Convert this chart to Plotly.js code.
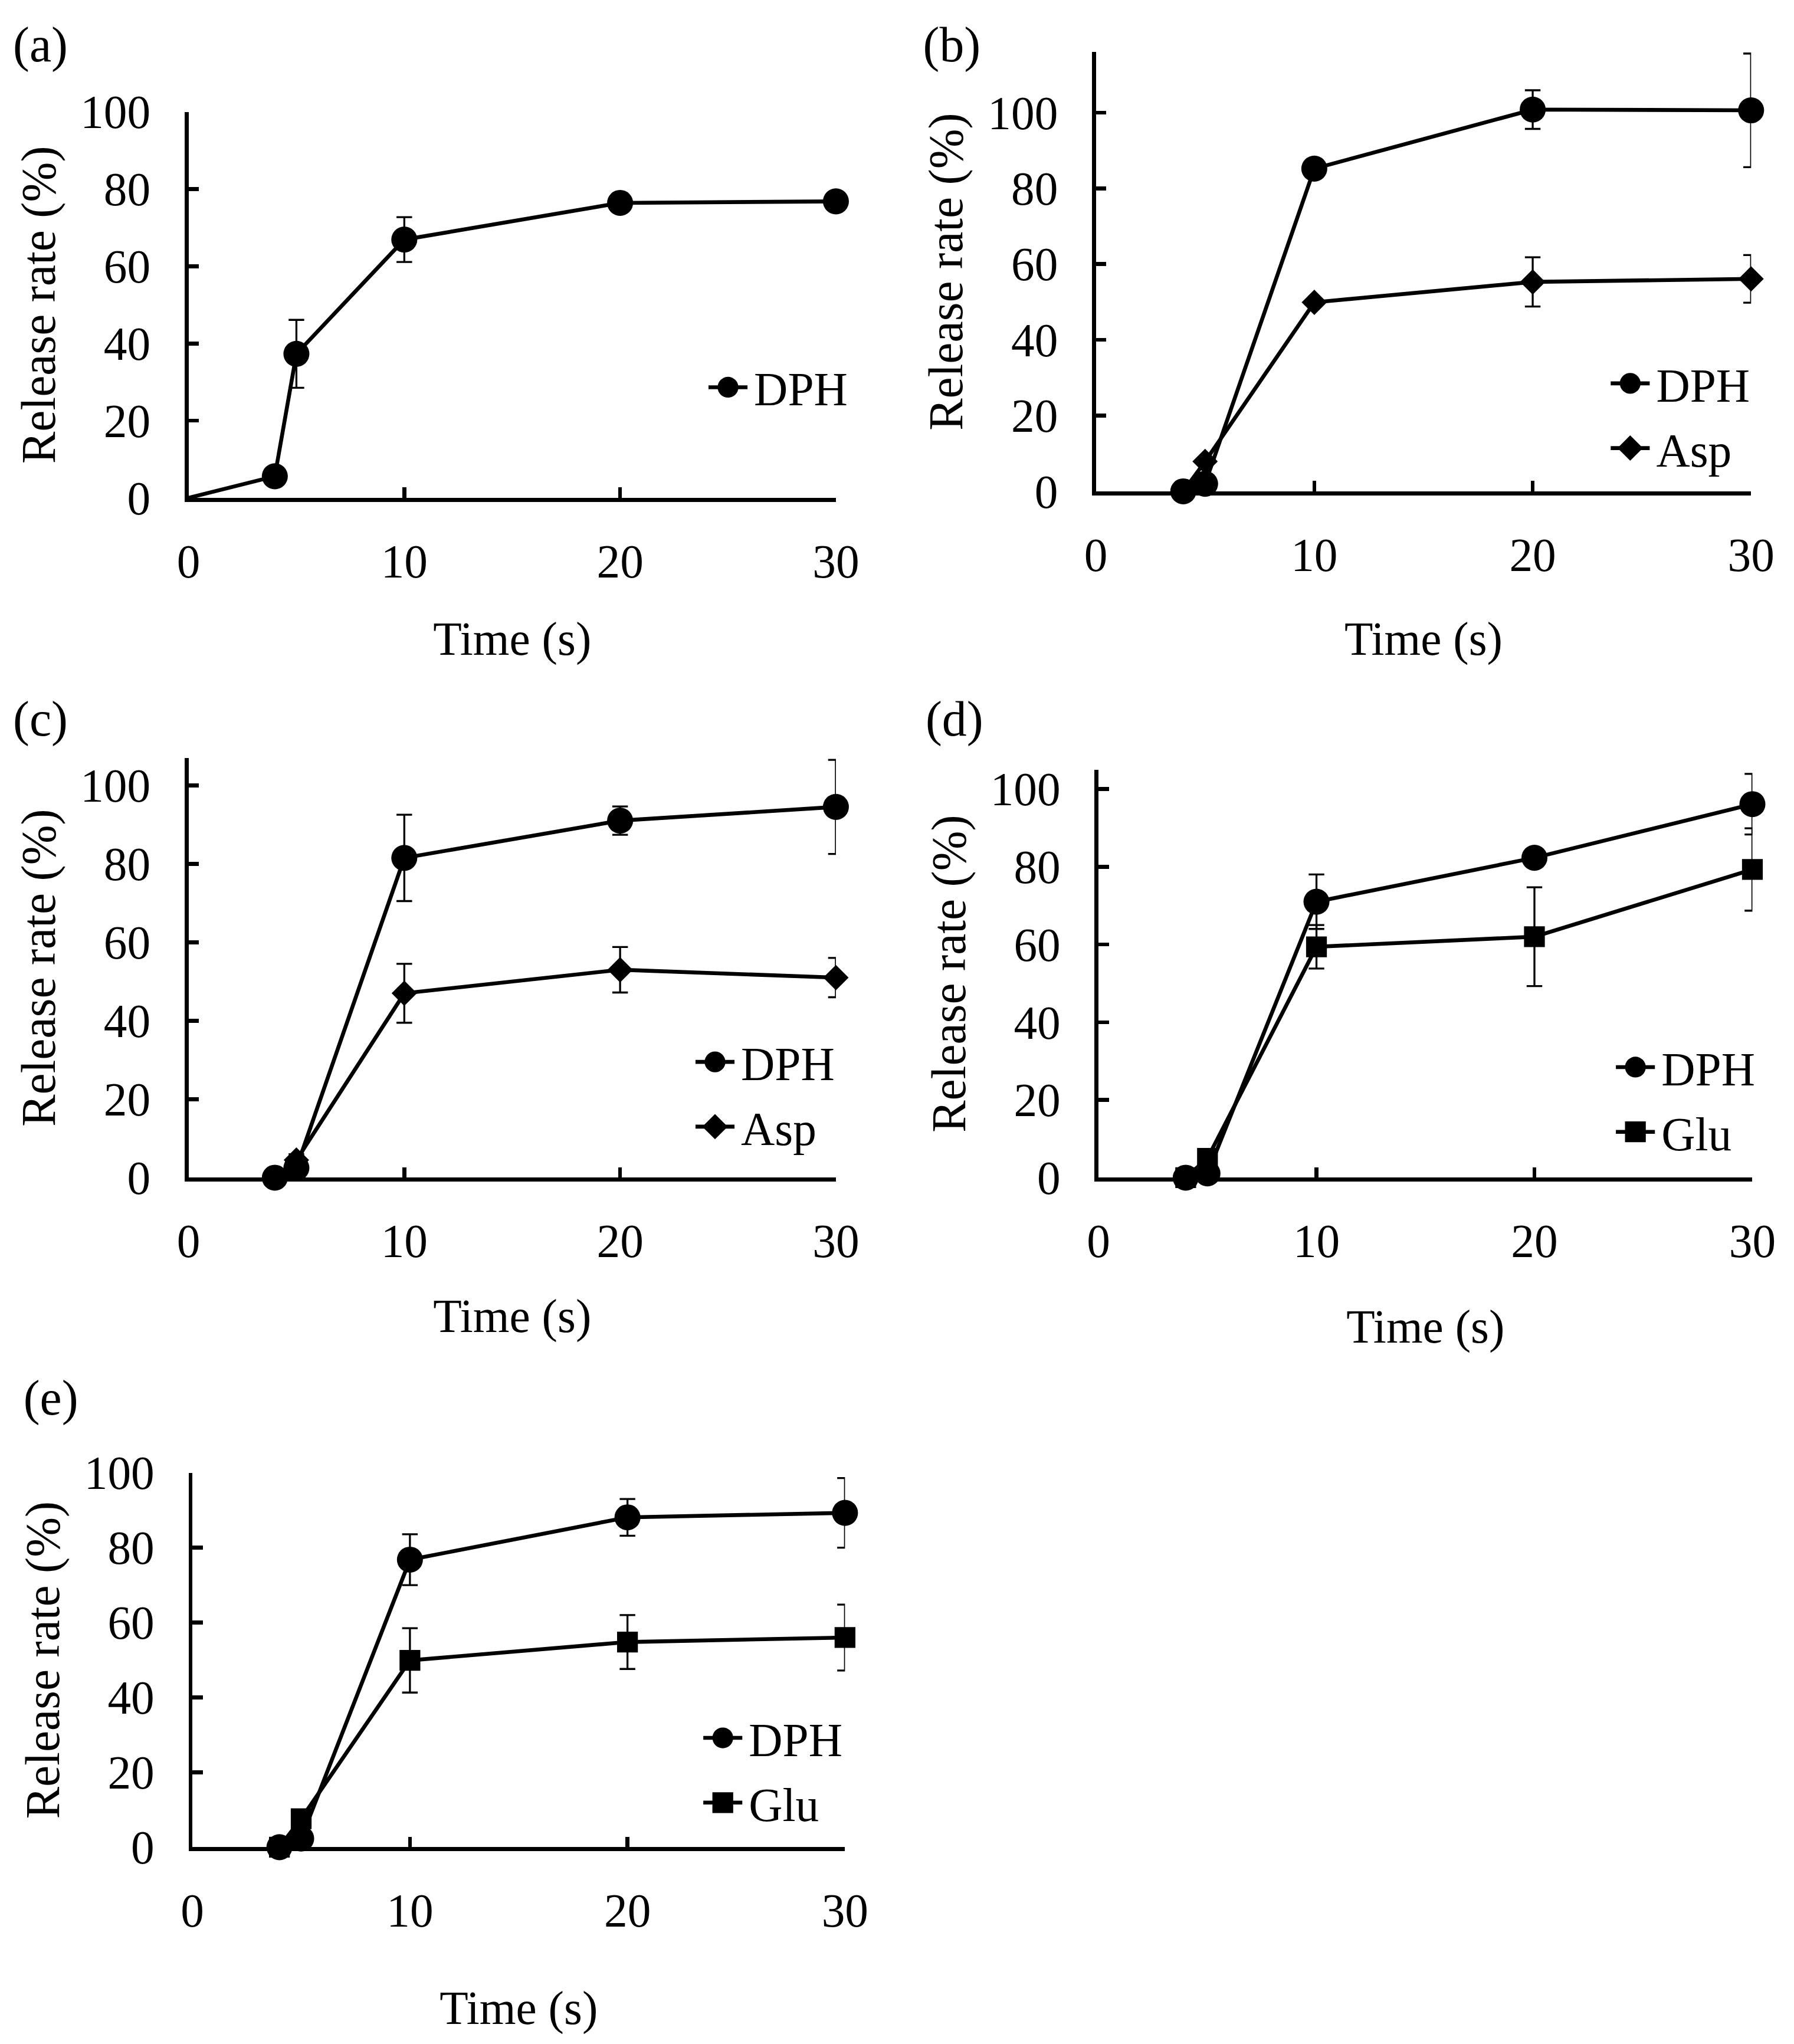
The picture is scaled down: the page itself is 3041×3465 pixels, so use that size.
<!DOCTYPE html>
<html>
<head>
<meta charset="utf-8">
<script src="https://cdn.plot.ly/plotly-3.0.1.min.js"></script>
<style>
  html, body { margin: 0; padding: 0; background: #fff; }
  #page { width: 3041px; height: 3465px; overflow: hidden; position: relative; }
  #chart { position: absolute; left: 0; top: 0; transform-origin: 0 0; }
</style>
</head>
<body>
<div id="page"><div id="chart"></div></div>
<script>
// time points (s)
const timeA = [0, 4, 5, 10, 20, 30];
const timeBE = [4, 5, 10, 20, 30];

// (a) DPH alone
const dphA = [0, 5.6, 37.3, 66.9, 76.4, 76.8];
const dphAErr = [0, 0, 8.8, 5.8, 0, 0];

// (b) DPH + Asp
const dphB = [0, 2, 85.2, 100.8, 100.6];
const dphBErr = [0, 0, 1, 5.1, 15];
const aspB = [0, 7.9, 49.9, 55.3, 56.1];
const aspBErr = [0, 0, 0, 6.5, 6.3];

// (c) DPH + Asp
const dphC = [0, 2.5, 81.5, 91, 94.5];
const dphCErr = [0, 0, 11, 3.6, 12];
const aspC = [0, 4.5, 47, 53, 51];
const aspCErr = [0, 1.5, 7.5, 5.8, 5];

// (d) DPH + Glu
const dphD = [0, 1.1, 71, 82.3, 96.1];
const dphDErr = [0, 0, 7, 0, 7.8];
const gluD = [0, 5, 59.4, 62, 79.3];
const gluDErr = [0, 0, 5.6, 12.7, 10.6];

// (e) DPH + Glu
const dphE = [0, 2.3, 76.8, 88.1, 89.3];
const dphEErr = [0, 0, 6.8, 4.9, 9.3];
const gluE = [0, 7.6, 49.9, 54.8, 56];
const gluEErr = [0, 0, 8.6, 7.2, 8.8];

const xTicks = [0, 10, 20, 30];
const yTicks = [0, 20, 40, 60, 80, 100];

// figure is laid out at the size of the printed figure, then scaled up
const W = 1380, H = 1573, SCALE = 3041 / W;
const dx = px => px / W;
const dy = px => 1 - px / H;

const FONT = 'Liberation Serif, Times New Roman, serif';
const FS = 36;

function series(name, x, y, err, symbol, size, n) {
    const s = n === 1 ? '' : String(n);
    return {
        type: 'scatter',
        mode: 'lines+markers',
        name: name,
        x: x,
        y: y,
        xaxis: 'x' + s,
        yaxis: 'y' + s,
        legend: 'legend' + s,
        showlegend: true,
        cliponaxis: false,
        line: {color: 'black', width: 3},
        marker: {symbol: symbol, size: size, color: 'black'},
        error_y: {
            type: 'data',
            array: err,
            visible: true,
            color: 'black',
            thickness: 1.5,
            width: 6
        }
    };
}

function xAxis(left, right, n, titleGap) {
    return {
        domain: [dx(left), dx(right)],
        anchor: n === 1 ? 'y' : 'y' + n,
        range: [0, 30],
        tickvals: xTicks,
        ticks: 'inside',
        ticklen: 8,
        tickwidth: 3,
        tickcolor: 'black',
        ticklabelstandoff: 15,
        showline: true,
        linecolor: 'black',
        linewidth: 3,
        showgrid: false,
        zeroline: false,
        tickfont: {family: FONT, size: FS, color: 'black'},
        title: {
            text: 'Time (s)',
            standoff: titleGap,
            font: {family: FONT, size: FS, color: 'black'}
        }
    };
}

function yAxis(bottom, top, ymax, n) {
    return {
        domain: [dy(bottom), dy(top)],
        anchor: n === 1 ? 'x' : 'x' + n,
        range: [0, ymax],
        tickvals: yTicks,
        ticks: 'inside',
        ticklen: 8,
        tickwidth: 3,
        tickcolor: 'black',
        ticklabelstandoff: 19,
        showline: true,
        linecolor: 'black',
        linewidth: 3,
        showgrid: false,
        zeroline: false,
        tickfont: {family: FONT, size: FS, color: 'black'},
        title: {
            text: 'Release rate (%)',
            standoff: 8,
            font: {family: FONT, size: 37, color: 'black'}
        }
    };
}

function legendAt(right, middle) {
    return {
        x: dx(right),
        y: dy(middle),
        xanchor: 'right',
        yanchor: 'middle',
        bgcolor: 'rgba(0,0,0,0)',
        borderwidth: 0,
        tracegroupgap: 0,
        font: {family: FONT, size: FS, color: 'black'}
    };
}

function panelLabel(text, left, middle) {
    return {
        text: text,
        xref: 'paper',
        yref: 'paper',
        x: dx(left),
        y: dy(middle),
        xanchor: 'left',
        yanchor: 'middle',
        showarrow: false,
        font: {family: FONT, size: 38, color: 'black'}
    };
}

const CIRCLE = 20, DIAMOND = 15, SQUARE = 16;

// in (a) the curve starts at the origin without a marker
const startA = {
    type: 'scatter',
    mode: 'lines',
    x: timeA.slice(0, 2),
    y: dphA.slice(0, 2),
    showlegend: false,
    cliponaxis: false,
    line: {color: 'black', width: 3}
};

const data = [
    startA,
    series('DPH', timeA.slice(1), dphA.slice(1), dphAErr.slice(1), 'circle', CIRCLE, 1),
    series('DPH', timeBE, dphB, dphBErr, 'circle', CIRCLE, 2),
    series('Asp', timeBE, aspB, aspBErr, 'diamond', DIAMOND, 2),
    series('DPH', timeBE, dphC, dphCErr, 'circle', CIRCLE, 3),
    series('Asp', timeBE, aspC, aspCErr, 'diamond', DIAMOND, 3),
    series('DPH', timeBE, dphD, dphDErr, 'circle', CIRCLE, 4),
    series('Glu', timeBE, gluD, gluDErr, 'square', SQUARE, 4),
    series('DPH', timeBE, dphE, dphEErr, 'circle', CIRCLE, 5),
    series('Glu', timeBE, gluE, gluEErr, 'square', SQUARE, 5)
];

const layout = {
    width: W,
    height: H,
    margin: {l: 0, r: 0, t: 0, b: 0},
    showlegend: true,
    paper_bgcolor: 'white',
    plot_bgcolor: 'rgba(0,0,0,0)',
    font: {family: FONT, size: FS, color: 'black'},

    xaxis: xAxis(145, 643, 1, 28),
    yaxis: yAxis(383, 86, 100, 1),
    xaxis2: xAxis(843, 1347, 2, 33),
    yaxis2: yAxis(378, 40, 116, 2),
    xaxis3: xAxis(145, 643, 3, 26),
    yaxis3: yAxis(906, 583, 107, 3),
    xaxis4: xAxis(845, 1348, 4, 34),
    yaxis4: yAxis(906, 592, 105, 4),
    xaxis5: xAxis(148, 650, 5, 43),
    yaxis5: yAxis(1421, 1133, 100, 5),

    legend: legendAt(658, 298),
    legend2: legendAt(1352, 320),
    legend3: legendAt(648, 842),
    legend4: legendAt(1356, 846),
    legend5: legendAt(654, 1362),

    annotations: [
        panelLabel('(a)', 8, 35),
        panelLabel('(b)', 708, 35),
        panelLabel('(c)', 8, 553),
        panelLabel('(d)', 710, 553),
        panelLabel('(e)', 16, 1075)
    ]
};

Plotly.newPlot('chart', data, layout, {staticPlot: true}).then(() => {
    document.getElementById('chart').style.transform = 'scale(' + SCALE + ')';
});
</script>
</body>
</html>
